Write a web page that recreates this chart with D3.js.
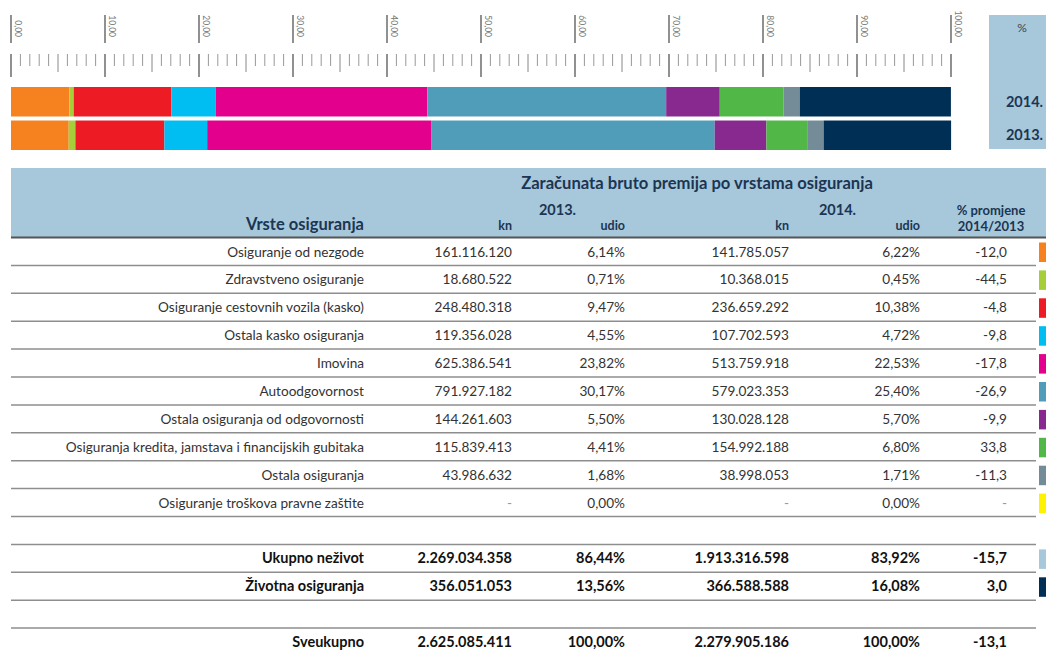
<!DOCTYPE html>
<html><head><meta charset="utf-8">
<script src="https://cdn.jsdelivr.net/npm/d3@7"></script>
<style>
body{margin:0;background:#fff}
svg{display:block;font-family:Lato,"Open Sans",sans-serif}
</style>
</head><body>
<svg id="chart" width="1046" height="650"></svg>
<script>
// ---------- DATA ----------
const categories = [
  "Osiguranje od nezgode",
  "Zdravstveno osiguranje",
  "Osiguranje cestovnih vozila (kasko)",
  "Ostala kasko osiguranja",
  "Imovina",
  "Autoodgovornost",
  "Ostala osiguranja od odgovornosti",
  "Osiguranja kredita, jamstava i financijskih gubitaka",
  "Ostala osiguranja",
  "Osiguranje troškova pravne zaštite"
];
const kn2013    = [161116120, 18680522, 248480318, 119356028, 625386541, 791927182, 144261603, 115839413, 43986632, null];
const udio2013  = [6.14, 0.71, 9.47, 4.55, 23.82, 30.17, 5.50, 4.41, 1.68, 0.00];
const kn2014    = [141785057, 10368015, 236659292, 107702593, 513759918, 579023353, 130028128, 154992188, 38998053, null];
const udio2014  = [6.22, 0.45, 10.38, 4.72, 22.53, 25.40, 5.70, 6.80, 1.71, 0.00];
const promjena  = [-12.0, -44.5, -4.8, -9.8, -17.8, -26.9, -9.9, 33.8, -11.3, null];

const totalNames = ["Ukupno neživot", "Životna osiguranja", "Sveukupno"];
const totalKn2013   = [2269034358, 356051053, 2625085411];
const totalUdio2013 = [86.44, 13.56, 100.00];
const totalKn2014   = [1913316598, 366588588, 2279905186];
const totalUdio2014 = [83.92, 16.08, 100.00];
const totalPromjena = [-15.7, 3.0, -13.1];

const barYears = ["2014.", "2013."];
const axisTicks = [0, 10, 20, 30, 40, 50, 60, 70, 80, 90, 100];

const catColors = ["#f5821f", "#a6ce39", "#ed1c24", "#00bdf2", "#e3008c", "#4f9db8", "#87298f", "#51b848", "#748b98", "#fff200"];
const nezivotColor = "#a6c8da";
const zivotColor = "#002f55";

// ---------- HELPERS ----------
const loc = d3.formatLocale({decimal: ",", thousands: ".", grouping: [3], currency: ["", ""], minus: "-"});
const fKn = v => v == null ? "-" : loc.format(",d")(v);
const fPct = v => v == null ? "-" : loc.format(",.2f")(v) + "%";
const fChg = v => v == null ? "-" : loc.format(".1f")(v);
const fTick = loc.format(",.2f");

const svg = d3.select("#chart");
const headColor = "#1c3553";

// ---------- TOP BAR CHART ----------
const x = d3.scaleLinear().domain([0, 100]).range([11, 951]);

// upper major ticks with rotated labels
const up = svg.append("g");
up.selectAll("line").data(axisTicks).join("line")
  .attr("x1", d => x(d)).attr("x2", d => x(d))
  .attr("y1", 15).attr("y2", 43)
  .attr("stroke", "#555").attr("stroke-width", 1.3);
up.selectAll("text").data(axisTicks).join("text")
  .attr("transform", d => `translate(${x(d) + 4},37) rotate(90)`)
  .attr("text-anchor", "end")
  .attr("font-size", 8.5).attr("fill", "#777")
  .text(d => fTick(d));

// lower ruler ticks
const minor = d3.range(0, 101, 1);
svg.append("g").selectAll("line").data(minor).join("line")
  .attr("x1", d => x(d)).attr("x2", d => x(d))
  .attr("y1", 54)
  .attr("y2", d => d % 10 === 0 ? 77 : (d % 5 === 0 ? 72 : 66))
  .attr("stroke", d => d % 10 === 0 ? "#555" : (d % 5 === 0 ? "#888" : "#999"))
  .attr("stroke-width", d => d % 10 === 0 ? 1.3 : 1);

// stacked bars
const barKeys = categories.concat(["Životna osiguranja"]);
const barColors = catColors.concat([zivotColor]);
const barData = barYears.map(y => {
  const o = {year: y};
  const vals = (y === "2014." ? udio2014 : udio2013);
  const ziv = (y === "2014." ? totalUdio2014[1] : totalUdio2013[1]);
  categories.forEach((c, i) => o[c] = vals[i]);
  o["Životna osiguranja"] = ziv;
  return o;
});
const stack = d3.stack().keys(barKeys)(barData);
const yBar = d3.scaleBand().domain(barYears).range([87, 150]).paddingInner(0.12);
svg.append("g").selectAll("g").data(stack).join("g")
  .attr("fill", (d, i) => barColors[i])
  .selectAll("rect").data(d => d).join("rect")
  .attr("x", d => x(d[0]))
  .attr("width", d => Math.max(0, x(d[1]) - x(d[0])))
  .attr("y", d => yBar(d.data.year))
  .attr("height", yBar.bandwidth());

// right legend box
svg.append("rect").attr("x", 989).attr("y", 15).attr("width", 57).attr("height", 134).attr("fill", nezivotColor);
svg.append("text").attr("x", 1022).attr("y", 32).attr("text-anchor", "middle")
  .attr("font-size", 12).attr("fill", "#444").text("%");
svg.append("g").selectAll("text").data(barYears).join("text")
  .attr("x", 1043).attr("y", d => yBar(d) + yBar.bandwidth() / 2 + 5)
  .attr("text-anchor", "end").attr("font-size", 14.5).attr("font-weight", 700)
  .attr("fill", headColor).text(d => d);

// ---------- TABLE ----------
// header band
svg.append("rect").attr("x", 11).attr("y", 168).attr("width", 1035).attr("height", 69.5).attr("fill", nezivotColor);

const colName = 364, colKn13 = 512, colUd13 = 625, colKn14 = 789, colUd14 = 920, colChg = 1007;

const hdr = svg.append("g").attr("fill", headColor).attr("font-weight", 700);
hdr.append("text").attr("x", 697).attr("y", 189).attr("text-anchor", "middle").attr("font-size", 16.6)
  .text("Zaračunata bruto premija po vrstama osiguranja");
hdr.append("text").attr("x", colName).attr("y", 230).attr("text-anchor", "end").attr("font-size", 16.5)
  .text("Vrste osiguranja");
hdr.append("text").attr("x", 576).attr("y", 215).attr("text-anchor", "end").attr("font-size", 14.5).text("2013.");
hdr.append("text").attr("x", 856).attr("y", 215).attr("text-anchor", "end").attr("font-size", 14.5).text("2014.");
[[colKn13, "kn"], [colUd13, "udio"], [colKn14, "kn"], [colUd14, "udio"]].forEach(([cx, t]) => {
  hdr.append("text").attr("x", cx).attr("y", 230).attr("text-anchor", "end").attr("font-size", 12.5).text(t);
});
hdr.append("text").attr("x", 991).attr("y", 215).attr("text-anchor", "middle").attr("font-size", 13).text("% promjene");
hdr.append("text").attr("x", 991).attr("y", 231).attr("text-anchor", "middle").attr("font-size", 13).text("2014/2013");

// rows
const rows = [];
categories.forEach((c, i) => rows.push({name: c, k13: kn2013[i], u13: udio2013[i], k14: kn2014[i], u14: udio2014[i], ch: promjena[i], color: catColors[i], bold: false}));
rows.push(null);
rows.push({name: totalNames[0], k13: totalKn2013[0], u13: totalUdio2013[0], k14: totalKn2014[0], u14: totalUdio2014[0], ch: totalPromjena[0], color: nezivotColor, bold: true});
rows.push({name: totalNames[1], k13: totalKn2013[1], u13: totalUdio2013[1], k14: totalKn2014[1], u14: totalUdio2014[1], ch: totalPromjena[1], color: zivotColor, bold: true});
rows.push(null);
rows.push({name: totalNames[2], k13: totalKn2013[2], u13: totalUdio2013[2], k14: totalKn2014[2], u14: totalUdio2014[2], ch: totalPromjena[2], color: null, bold: true});

const rowY = d3.scaleLinear().domain([0, 1]).range([237.5, 265.4]);

// separator lines
svg.append("g").selectAll("line").data(d3.range(1, rows.length)).join("line")
  .attr("x1", 11).attr("x2", 1036)
  .attr("y1", d => rowY(d)).attr("y2", d => rowY(d))
  .attr("stroke", "#8e8e8e").attr("stroke-width", 1.5);
// header bottom border
svg.append("line").attr("x1", 11).attr("x2", 1046).attr("y1", rowY(0)).attr("y2", rowY(0))
  .attr("stroke", "#555").attr("stroke-width", 2);

const body = svg.append("g");
rows.forEach((r, i) => {
  if (!r) return;
  const top = rowY(i);
  const g = body.append("g")
    .attr("font-size", r.bold ? 14.5 : 13.6)
    .attr("font-weight", r.bold ? 700 : 400)
    .attr("fill", r.bold ? "#111" : "#333");
  const base = top + 19;
  [[colName, r.name], [colKn13, fKn(r.k13)], [colUd13, fPct(r.u13)], [colKn14, fKn(r.k14)], [colUd14, fPct(r.u14)], [colChg, fChg(r.ch)]]
    .forEach(([cx, t]) => {
      g.append("text").attr("x", cx).attr("y", base).attr("text-anchor", "end")
        .attr("fill", (!r.bold && t === "-") ? "#999" : null)
        .text(t);
    });
  if (r.color) {
    body.append("rect").attr("x", 1039).attr("y", top + 5).attr("width", 10).attr("height", 19.5).attr("fill", r.color);
  }
});
</script>
</body></html>
